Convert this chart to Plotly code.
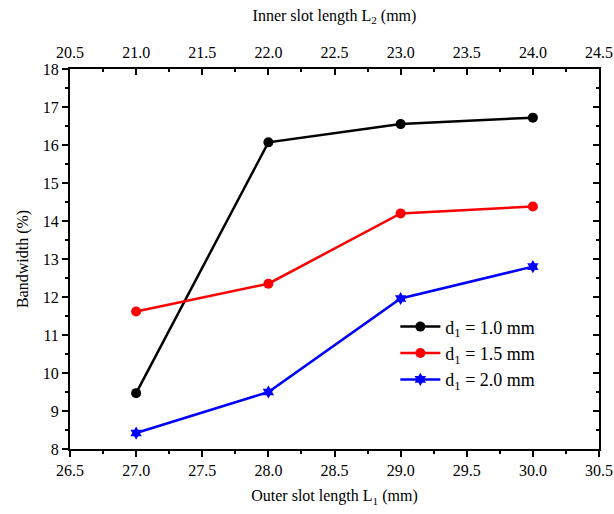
import plotly.graph_objects as go

# Slot lengths (mm)
outer_L1 = [27.0, 28.0, 29.0, 30.0]
inner_L2 = [21.0, 22.0, 23.0, 24.0]

# Bandwidth (%) for each slot width d1
series_names = ["d<sub>1</sub> = 1.0 mm", "d<sub>1</sub> = 1.5 mm", "d<sub>1</sub> = 2.0 mm"]
bw_d1_10 = [9.47, 16.07, 16.55, 16.72]
bw_d1_15 = [11.62, 12.35, 14.20, 14.38]
bw_d1_20 = [8.42, 9.50, 11.96, 12.80]

colors = ["#000000", "#ff0000", "#0000ff"]
symbols = ["circle", "circle", "hexagram"]

FONT = "Liberation Serif, Times New Roman, serif"

fig = go.Figure()
for name, vals, col, sym in zip(series_names, [bw_d1_10, bw_d1_15, bw_d1_20], colors, symbols):
    fig.add_trace(go.Scatter(
        x=outer_L1, y=vals, name=name, mode="lines+markers",
        line=dict(color=col, width=2.5),
        marker=dict(color=col, size=10, symbol=sym),
        xaxis="x", yaxis="y",
    ))

# invisible trace so the top (inner slot length) axis is drawn
fig.add_trace(go.Scatter(
    x=inner_L2, y=bw_d1_10, mode="markers", marker=dict(opacity=0),
    showlegend=False, hoverinfo="skip", xaxis="x2", yaxis="y2",
))

axis_common = dict(
    showgrid=False, zeroline=False, showline=True, linecolor="black", linewidth=2,
    tickcolor="black", tickwidth=2, ticklen=6, automargin=False,
    tickfont=dict(family=FONT, size=16, color="black"),
)
minor_out = dict(ticklen=3, tickwidth=2, tickcolor="black", ticks="outside", showgrid=False)
minor_in = dict(ticklen=3, tickwidth=2, tickcolor="black", ticks="inside", showgrid=False)

fig.update_layout(
    width=614, height=514,
    margin=dict(l=70, r=15, t=69, b=65),
    paper_bgcolor="white", plot_bgcolor="white",
    font=dict(family=FONT, size=16, color="black"),
    xaxis=dict(
        **axis_common, range=[26.5, 30.5], dtick=0.5, tick0=26.5, tickformat=".1f",
        ticks="outside", minor=dict(dtick=0.25, **minor_out),
        title=dict(text="Outer slot length L<sub>1</sub> (mm)", font=dict(family=FONT, size=16), standoff=12),
    ),
    xaxis2=dict(
        **axis_common, range=[20.5, 24.5], dtick=0.5, tick0=20.5, tickformat=".1f",
        ticks="inside", overlaying="x", side="top", anchor="y", ticklabelstandoff=3,
        minor=dict(dtick=0.25, **minor_in),
        title=dict(text="Inner slot length L<sub>2</sub> (mm)", font=dict(family=FONT, size=16), standoff=18),
    ),
    yaxis=dict(
        **axis_common, range=[8, 18], dtick=1, ticks="outside",
        minor=dict(dtick=0.5, **minor_out),
        title=dict(text="Bandwidth (%)", font=dict(family=FONT, size=16), standoff=10),
    ),
    yaxis2=dict(
        **axis_common, range=[8, 18], dtick=1, ticks="inside", overlaying="y", side="right",
        anchor="x", showticklabels=False, minor=dict(dtick=0.5, **minor_in),
    ),
    legend=dict(
        x=0.615, y=0.37, xanchor="left", yanchor="top",
        bgcolor="rgba(0,0,0,0)", font=dict(family=FONT, size=18),
        tracegroupgap=0, itemwidth=40,
    ),
)

fig.write_html("out.html")
